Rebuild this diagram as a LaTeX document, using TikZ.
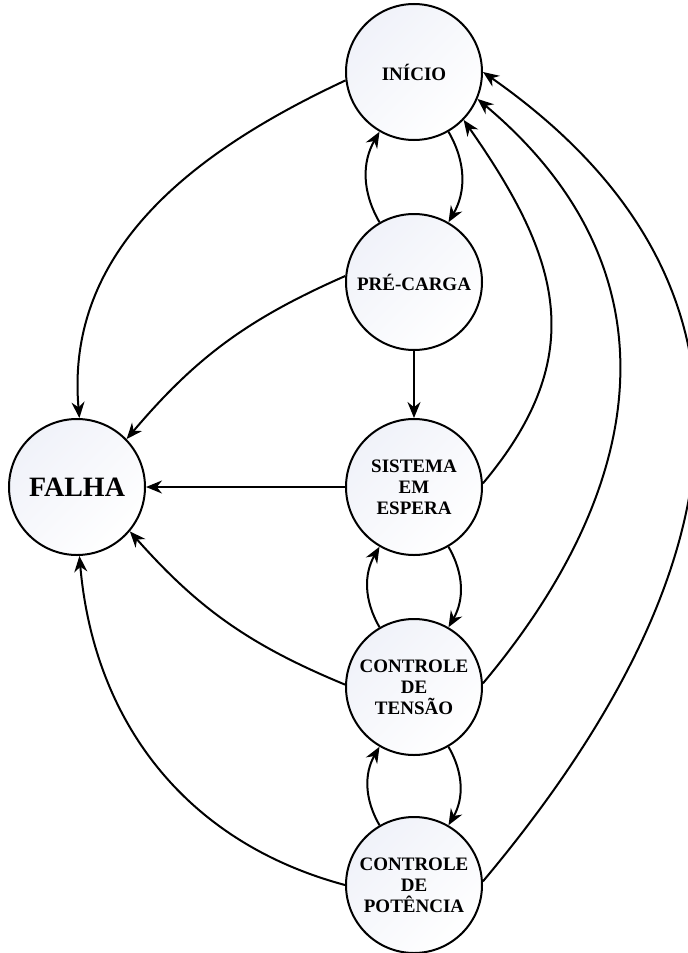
\documentclass[tikz,border=0pt]{standalone}
\usepackage{fontspec}
\setmainfont{Liberation Serif}
\usepackage{tikz}
\usetikzlibrary{arrows.meta}

\definecolor{statefill}{HTML}{F0F2F9}

\begin{document}
\begin{tikzpicture}[x=0.5pt,y=-0.5pt,line width=1pt,
    state/.style={circle,draw,inner sep=0pt,minimum size=68pt,align=center,
        top color=statefill,bottom color=white,shading angle=45,
        font=\bfseries\fontsize{9.5}{10.5}\selectfont},
    trans/.style={-{Stealth[length=8pt,width=6.5pt]}}]
    \useasboundingbox (0,0) rectangle (687,953);
   		\node at (414,72) [state] (inicio) {INÍCIO};
        \node at (414,282) [state] (precarga) {PRÉ-CARGA};
        \node at (414,487) [state] (espera) {SISTEMA\\EM\\ESPERA};
        \node at (414,687) [state] (tensao) {CONTROLE\\DE\\TENSÃO};
        \node at (414,885) [state] (potencia) {CONTROLE\\DE\\POTÊNCIA};
        \node at (77,487) [state,font=\bfseries\fontsize{14}{16}\selectfont] (falha) {FALHA};
        % ida e volta entre estados vizinhos
        \draw[trans] (precarga.120) to[bend left=30] (inicio.240);
        \draw[trans] (inicio.-60) to[bend left=30] (precarga.60);
        \draw[trans] (precarga) -- (espera);
        \draw[trans] (tensao.120) to[bend left=30] (espera.240);
        \draw[trans] (espera.-60) to[bend left=30] (tensao.60);
        \draw[trans] (potencia.120) to[bend left=30] (tensao.240);
        \draw[trans] (tensao.-60) to[bend left=30] (potencia.60);
        % falhas
        \draw[trans] (inicio.187) to[out=205,in=95] (falha.88);
        \draw[trans] (precarga.175) to[bend right=13] (falha.44);
        \draw[trans] (espera) -- (falha);
        \draw[trans] (tensao.178) to[bend left=13] (falha.-40);
        \draw[trans] (potencia.180) to[out=165,in=-85] (falha.-88);
        % retorno ao inicio
        \draw[trans] (espera.3) to[out=50,in=-55,looseness=1.18] (inicio.-44);
        \draw[trans] (tensao.3) to[out=50,in=-40,looseness=1.15] (inicio.-23);
        \draw[trans] (potencia.3) to[out=50,in=-35,looseness=1.22] (inicio.0);
    \end{tikzpicture}
\end{document}
